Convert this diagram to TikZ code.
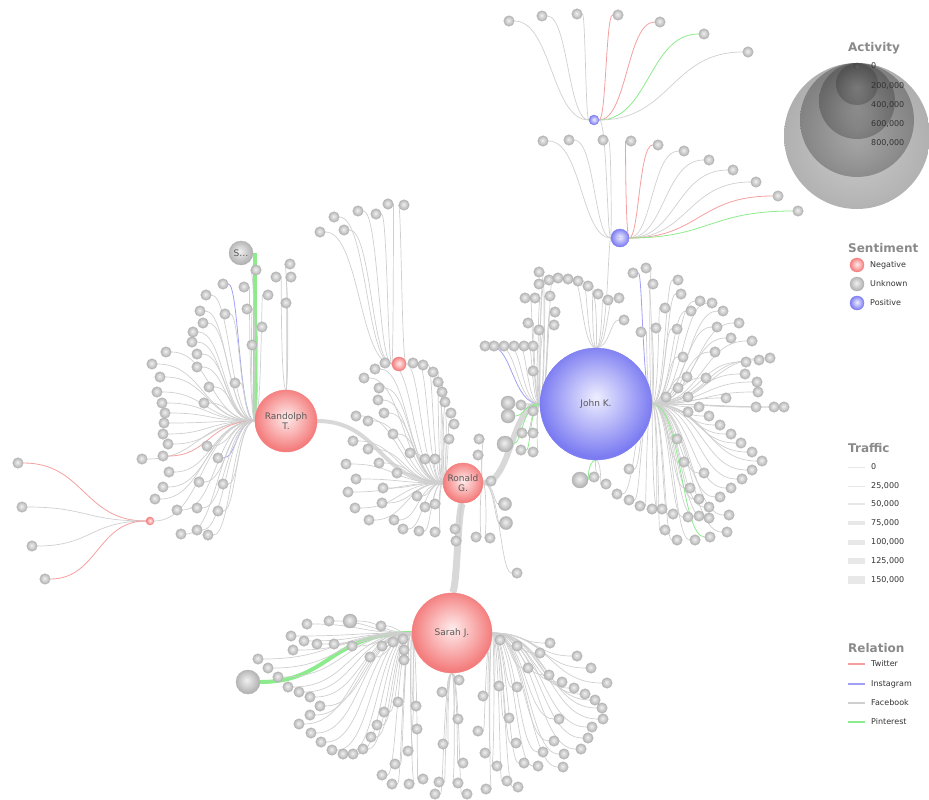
\documentclass[tikz,border=0pt]{standalone}
\usepackage{fontspec}
\setmainfont{DejaVu Sans}
\usetikzlibrary{calc}
\pgfdeclarelayer{bg}
\pgfdeclarelayer{lv}
\pgfdeclarelayer{fg}
\pgfsetlayers{bg,main,lv,fg}
\definecolor{fbc}{HTML}{CFCFCF}
\definecolor{twc}{HTML}{F5A0A0}
\definecolor{igc}{HTML}{A0A0F5}
\definecolor{pic}{HTML}{8CEB8C}
\definecolor{trc}{HTML}{D8D8D8}
\definecolor{negin}{HTML}{FFECEC}
\definecolor{negout}{HTML}{F47C7C}
\definecolor{posin}{HTML}{EEEEFF}
\definecolor{posout}{HTML}{7C7CF2}
\definecolor{unkin}{HTML}{F0F0F0}
\definecolor{unkout}{HTML}{B2B2B2}
\definecolor{actin}{HTML}{7A7A7A}
\definecolor{actout}{HTML}{3A3A3A}
\definecolor{ttl}{HTML}{8A8A8A}
\pgfdeclareradialshading{sphneg}{\pgfpoint{0bp}{3bp}}{color(0bp)=(negin); color(14bp)=(negin!45!negout); color(25bp)=(negout); color(50bp)=(negout)}
\pgfdeclareradialshading{sphpos}{\pgfpoint{0bp}{3bp}}{color(0bp)=(posin); color(14bp)=(posin!45!posout); color(25bp)=(posout); color(50bp)=(posout)}
\pgfdeclareradialshading{sphunk}{\pgfpoint{-3bp}{4bp}}{color(0bp)=(unkin); color(14bp)=(unkin!45!unkout); color(25bp)=(unkout); color(50bp)=(unkout)}
\pgfdeclareradialshading{sphact}{\pgfpoint{0bp}{-4bp}}{color(0bp)=(actin); color(25bp)=(actout); color(50bp)=(actout)}
\tikzset{
  fb/.style={draw=fbc, line width=0.7pt},
  tw/.style={draw=twc, line width=0.8pt},
  ig/.style={draw=igc, line width=0.8pt},
  pin/.style={draw=pic, line width=0.8pt},
  traffic/.style={draw=trc},
  hub/.style={circle, inner sep=0pt, align=center, text=black!65, font=\fontsize{9}{10}\selectfont, line width=0.4pt},
  negball/.style={hub, shading=sphneg, draw=negout},
  posball/.style={hub, shading=sphpos, draw=posout},
  unkball/.style={hub, shading=sphunk, draw=unkout},
  leaf/.style={circle, inner sep=0pt, minimum size=10.5pt, shading=sphunk, draw=unkout, line width=0.4pt},
  ttlstyle/.style={anchor=west, inner sep=0pt, text=ttl, font=\fontsize{12}{13}\selectfont\bfseries},
  lbl/.style={anchor=west, inner sep=0pt, text=black!80, font=\fontsize{8}{9}\selectfont},
  actball/.style={circle, inner sep=0pt, shading=sphact, opacity=0.4},
}
\newcommand\hlk[3]{\path ($(#2)!0.5!(#3)$) coordinate (mid); \draw[#1] (#2) .. controls (mid |- #2) and (mid |- #3) .. (#3);}
\newcommand\vlk[3]{\path ($(#2)!0.5!(#3)$) coordinate (mid); \draw[#1] (#2) .. controls (#2 -| mid) and (#3 -| mid) .. (#3);}
\newcommand\fan[4]{%
  \begin{pgfonlayer}{lv}\foreach \x/\y/\s [count=\i] in {#4}{\node[leaf] (#1\i) at (\x,\y) {};}\end{pgfonlayer}
  \foreach \x/\y/\s [count=\i] in {#4}{#3{\s}{#2}{#1\i}}}
\newcommand\fanb[4]{%
  \begin{pgfonlayer}{lv}\foreach \x/\y/\s/\d [count=\i] in {#4}{\node[leaf, minimum size=\d pt] (#1\i) at (\x,\y) {};}\end{pgfonlayer}
  \foreach \x/\y/\s/\d [count=\i] in {#4}{#3{\s}{#2}{#1\i}}}
\begin{document}
\begin{tikzpicture}[x=1pt, y=-1pt]
\useasboundingbox (0,0) rectangle (929,800);
% ---------------- hubs ----------------
\begin{pgfonlayer}{fg}
\node[negball, minimum size=62pt] (RT) at (286,421) {Randolph\\T.};
\node[negball, minimum size=40pt] (RG) at (463,483) {Ronald\\G.};
\node[negball, minimum size=80pt] (SJ) at (452,633) {Sarah J.};
\node[posball, minimum size=112pt] (JK) at (596,404) {John K.};
\node[posball, minimum size=10pt] (TA) at (594,120) {};
\node[posball, minimum size=18pt, font=\fontsize{4}{4}\selectfont] (TB) at (620,238) {...};
\node[negball, minimum size=14pt] (RX) at (399,364) {};
\node[negball, minimum size=8pt] (RS) at (150,521) {};
\node[unkball, minimum size=24pt] (S) at (241,253) {S…};
\node[unkball, minimum size=24pt] (BL) at (248,682) {};
\end{pgfonlayer}
% ---------------- hub links ----------------
\begin{pgfonlayer}{bg}
\hlk{traffic, line width=4pt}{RT.east}{RG.west}
\vlk{traffic, line width=7pt}{RG.south}{SJ.north}
\hlk{traffic, line width=6pt}{RG.east}{JK.west}
\draw[draw=pic, line width=4pt] (RT.west) -- (RT.west |- S.center);
\hlk{draw=pic, line width=4pt}{SJ.west}{BL}
\vlk{fb}{JK.north}{TB}
\vlk{fb}{TA}{TB}
\hlk{fb}{RG.west}{RX}
\hlk{fb}{RT.west}{RS}
\end{pgfonlayer}
% ---------------- Randolph T. ----------------
\fan{rw}{RT.west}{\hlk}{223/284/ig, 244/287/fb, 206/295/fb, 200/311/fb, 225/314/fb, 247/309/fb, 203/323/fb, 193/332/fb, 192/342/fb, 166/352/fb, 197/354/fb, 152/364/fb, 197/367/fb, 160/377/fb, 209/387/fb, 235/383/fb, 157/392/fb, 162/403/fb, 204/403/fb, 165/413/fb, 164/423/fb, 163/434/fb, 168/444/fb, 207/446/fb, 142/459/fb, 163/456/tw, 218/458/ig, 169/472/fb, 199/482/fb, 223/484/fb, 163/487/fb, 155/499/fb, 177/510/fb, 197/508/fb, 218/511/fb, 181/534/fb, 197/530/fb, 208/535/fb, 256/270/fb, 268/295/fb, 262/327/fb, 252/345/fb}
\fan{rn}{RT.north}{\vlk}{276/277/fb, 290/264/fb, 291/277/fb, 286/303/fb}
\fan{rs}{RS}{\hlk}{18/463/tw, 22/507/fb, 32/546/fb, 45/579/tw}
% ---------------- Ronald G. ----------------
\fan{gw}{RG.west}{\hlk}{385/363/fb, 413/363/fb, 423/365/fb, 433/372/fb, 438/382/fb, 442/392/fb, 445/402/fb, 451/413/fb, 454/424/fb, 449/439/fb, 375/369/fb, 364/378/fb, 379/388/fb, 378/400/fb, 384/413/fb, 356/416/fb, 368/421/fb, 393/434/fb, 353/441/fb, 368/449/fb, 410/453/fb, 425/459/fb, 435/459/fb, 346/464/fb, 379/463/fb, 397/473/fb, 356/479/fb, 383/488/fb, 348/492/fb, 417/496/fb, 382/503/fb, 425/507/fb, 435/504/fb, 355/508/fb, 369/520/fb, 394/520/fb, 403/529/fb, 419/531/fb, 435/532/fb}
\fan{gx}{RX}{\hlk}{388/204/fb, 404/205/fb, 358/211/fb, 376/214/fb, 334/217/fb, 344/230/fb, 320/232/fb}
\fan{ge}{RG.east}{\hlk}{479/439/fb, 478/455/fb, 491/481/fb, 476/537/fb, 490/538/fb, 517/573/fb}
\fanb{gb}{RG.east}{\hlk}{505/504/fb/13, 506/523/fb/13}
\fan{gs}{RG.south}{\vlk}{455/529/fb, 456/541/fb}
% ---------------- top clusters ----------------
\fan{ta}{TA}{\hlk}{509/21/fb, 542/16/fb, 577/14/fb, 618/15/tw, 660/22/tw, 704/34/pin, 748/52/fb}
\fan{tb}{TB}{\hlk}{543/141/fb, 569/140/fb, 603/140/fb, 631/141/tw, 658/145/tw, 684/151/fb, 709/160/fb, 733/170/fb, 756/182/fb, 778/196/tw, 798/211/pin}
% ---------------- John K. ----------------
\fan{jn}{JK.north}{\vlk}{568/279/fb, 578/281/fb, 588/286/fb, 598/294/fb, 608/300/fb, 619/298/fb, 624/320/fb}
\fan{jw}{JK.west}{\hlk}{539/272/fb, 549/280/fb, 558/278/fb, 539/284/fb, 525/298/fb, 535/298/fb, 550/296/fb, 555/312/fb, 528/323/fb, 539/330/fb, 554/325/fb, 485/346/ig, 494/346/fb, 504/346/fb, 514/346/fb, 524/346/fb, 533/346/fb, 533/371/fb, 521/405/fb, 533/411/fb, 522/433/fb, 533/433/fb, 521/450/pin, 533/452/fb}
\fanb{jb}{JK.west}{\hlk}{508/403/fb/14, 508/416/pin/14, 505/444/pin/16}
\fan{je}{JK.east}{\hlk}{633/273/ig, 646/268/fb, 653/284/fb, 678/280/fb, 681/294/fb, 665/308/fb, 700/301/fb, 712/303/fb, 723/311/fb, 691/311/fb, 641/332/fb, 656/328/fb, 677/329/fb, 717/327/fb, 739/323/fb, 731/338/fb, 752/341/fb, 715/352/fb, 683/357/fb, 746/362/fb, 759/360/fb, 770/358/fb, 745/374/fb, 706/378/fb, 687/377/fb, 757/382/fb, 678/388/fb, 758/392/fb, 666/397/fb, 688/397/fb, 726/398/fb, 756/407/fb, 774/407/fb, 784/407/fb, 699/407/fb, 688/412/fb, 709/416/fb, 720/425/fb, 731/434/fb, 677/439/fb, 741/443/fb, 752/452/fb, 762/461/fb, 684/462/fb, 752/470/fb, 704/473/fb, 742/479/fb, 690/488/fb, 731/488/fb, 720/497/fb, 699/499/fb, 709/507/fb, 688/517/fb, 699/516/fb, 709/518/fb, 729/515/fb, 665/530/fb, 677/540/fb, 695/540/fb, 710/537/pin, 727/532/fb, 673/514/fb, 662/509/fb, 652/509/fb, 640/506/fb, 629/500/fb, 629/469/fb, 617/494/fb}
\fan{js}{JK.south}{\vlk}{594/477/fb, 606/484/fb}
\fanb{jt}{JK.south}{\vlk}{580/480/pin/16}
% ---------------- Sarah J. ----------------
\fan{sw}{SJ.west}{\hlk}{307/624/fb, 329/621/fb, 381/626/fb, 291/636/fb, 304/641/fb, 317/644/fb, 334/644/fb, 352/646/fb, 382/646/fb, 393/642/fb, 403/639/fb, 293/650/fb, 404/650/fb, 370/657/fb, 404/660/fb, 258/659/fb, 268/668/fb, 278/677/fb, 288/687/fb, 299/692/fb, 310/697/fb, 320/706/fb, 310/715/fb, 299/724/fb, 311/733/fb, 321/742/fb, 332/750/fb, 343/754/fb, 353/754/fb, 363/749/fb, 371/737/fb, 377/725/fb, 384/712/fb, 398/702/fb, 416/706/fb, 417/729/fb, 408/751/fb, 395/764/fb, 382/775/fb, 392/784/fb, 409/784/fb, 423/779/fb}
\fanb{sv}{SJ.west}{\hlk}{350/621/fb/14}
\fan{ss}{SJ.south}{\vlk}{439/782/fb, 435/794/fb, 442/692/fb, 443/744/fb, 459/680/fb, 458/719/fb, 463/763/fb, 458/783/fb, 467/794/fb}
\fan{se}{SJ.east}{\hlk}{500/640/fb, 517/646/fb, 550/643/fb, 540/653/fb, 577/656/fb, 591/668/fb, 528/668/fb, 607/683/fb, 549/675/fb, 562/682/fb, 574/688/fb, 585/694/fb, 595/700/fb, 602/708/fb, 603/719/fb, 499/686/fb, 517/687/fb, 483/696/fb, 559/719/fb, 592/727/fb, 509/718/fb, 588/738/fb, 478/731/fb, 554/741/fb, 516/743/fb, 581/749/fb, 564/754/fb, 543/752/fb, 485/753/fb, 524/763/fb, 538/766/fb, 563/767/fb, 497/766/fb, 507/781/fb, 518/787/fb, 486/789/fb}
% ---------------- legend: Activity ----------------
\node[ttlstyle] (tA) at (848,48) {Activity};
\node[actball, minimum size=146pt] (a8) at (857,136) {};
\node[actball, minimum size=114pt] (a6) at (857,120) {};
\node[actball, minimum size=76pt] (a4) at (857,101) {};
\node[actball, minimum size=42pt] (a2) at (857,84) {};
\node[actball, minimum size=7pt] (a0) at (857,66) {};
\node[lbl] (l0) at (871,66) {0};
\node[lbl] (l2) at (871,86) {200,000};
\node[lbl] (l4) at (871,105) {400,000};
\node[lbl] (l6) at (871,124) {600,000};
\node[lbl] (l8) at (871,143) {800,000};
% ---------------- legend: Sentiment ----------------
\node[ttlstyle] (tS) at (848,248) {Sentiment};
\node[negball, minimum size=14pt] (sN) at (857,265) {};
\node[unkball, minimum size=14pt] (sU) at (857,284) {};
\node[posball, minimum size=14pt] (sP) at (857,303) {};
\node[lbl] (lN) at (870,265) {Negative};
\node[lbl] (lU) at (870,284) {Unknown};
\node[lbl] (lP) at (870,303) {Positive};
% ---------------- legend: Traffic ----------------
\node[ttlstyle] (tT) at (848,448) {Traffic};
\foreach \y/\w/\t [count=\k] in {467/0.4/0, 486/1/{25,000}, 504/2/{50,000}, 523/3.5/{75,000}, 542/5/{100,000}, 561/6.5/{125,000}, 580/8/{150,000}}{
  \draw[draw=black!9, line width=\w pt] (848,\y) -- (865,\y);
  \node[lbl] (lt\k) at (871,\y) {\t};
}
% ---------------- legend: Relation ----------------
\node[ttlstyle] (tR) at (848,648) {Relation};
\foreach \y/\c/\t [count=\k] in {664/twc/Twitter, 684/igc/Instagram, 703/fbc/Facebook, 722/pic/Pinterest}{
  \draw[draw=\c, line width=1.2pt] (848,\y) -- (865,\y);
  \node[lbl] (lr\k) at (871,\y) {\t};
}
\end{tikzpicture}
\end{document}
